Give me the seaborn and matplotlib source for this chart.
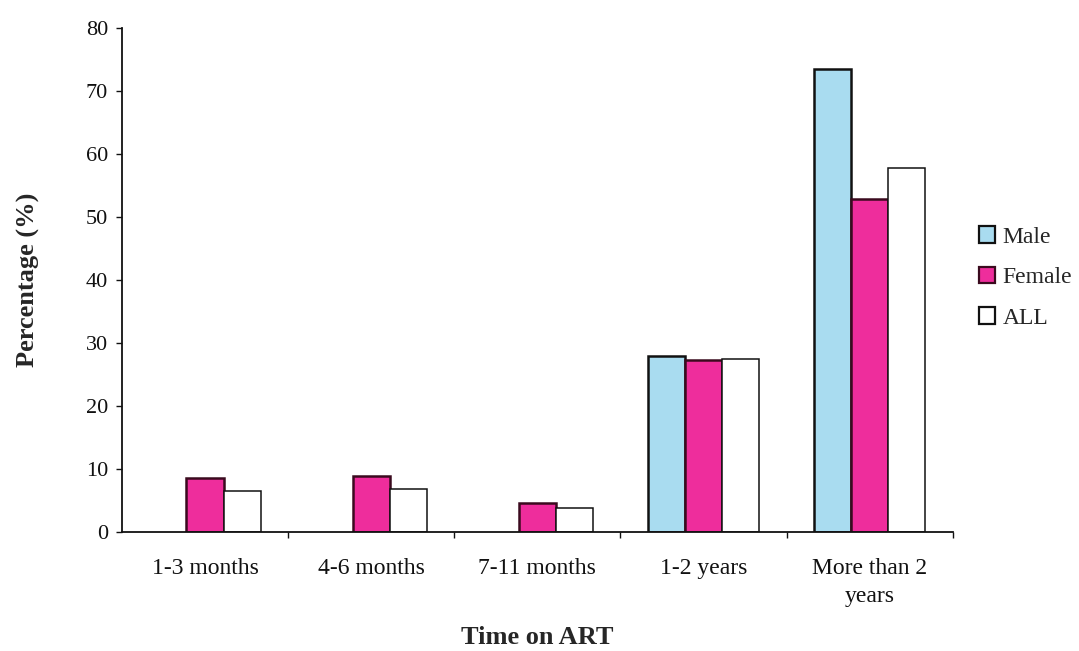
import matplotlib
matplotlib.use("Agg")
import matplotlib.pyplot as plt
import seaborn as sns
import pandas as pd
from matplotlib.patches import Patch

categories = ["1-3 months", "4-6 months", "7-11 months", "1-2 years", "More than 2\nyears"]
male = [0, 0, 0, 28.0, 73.5]
female = [8.6, 8.9, 4.6, 27.3, 52.8]
all_pts = [6.5, 6.8, 3.8, 27.5, 57.8]
groups = ["Male", "Female", "ALL"]

fills = {"Male": "#a9dcf0", "Female": "#ee2d9c", "ALL": "#ffffff"}
edges = {"Male": "#111111", "Female": "#3a0a1e", "ALL": "#111111"}

df = pd.DataFrame({
    "Time on ART": categories * 3,
    "Percentage": male + female + all_pts,
    "Group": ["Male"] * 5 + ["Female"] * 5 + ["ALL"] * 5,
})

sns.set_theme(style="white")
plt.rcParams["font.family"] = ["Liberation Serif", "DejaVu Serif"]

fig = plt.figure(figsize=(10.79, 6.51), dpi=100)
ax = fig.add_axes([0.113, 0.183, 0.770, 0.774])

sns.barplot(data=df, x="Time on ART", y="Percentage", hue="Group",
            hue_order=groups, order=categories, palette=fills,
            saturation=1, width=0.67, gap=0, legend=False, ax=ax)

# bar outlines per series
for container, g in zip(ax.containers, groups):
    for bar in container:
        bar.set_edgecolor(edges[g])
        bar.set_linewidth(1.8 if g != "ALL" else 1.1)
        if bar.get_height() == 0:
            bar.set_visible(False)

ax.set_xlim(-0.5, 4.5)
ax.set_ylim(0, 80)
ax.set_yticks(range(0, 81, 10))
ax.tick_params(axis="y", labelsize=16, length=4, width=1, direction="out",
               left=True, colors="#111111", pad=6)
ax.set_xticks(range(5))
ax.set_xticklabels(categories, fontsize=17, linespacing=1.4)
ax.tick_params(axis="x", length=0, pad=19, colors="#111111")
ax.set_xticks([0.5, 1.5, 2.5, 3.5, 4.5], minor=True)
ax.tick_params(axis="x", which="minor", length=4, width=1, bottom=True,
               direction="out", color="#111111")

for s in ["top", "right"]:
    ax.spines[s].set_visible(False)
for s in ["left", "bottom"]:
    ax.spines[s].set_color("#111111")
    ax.spines[s].set_linewidth(1.3)

ax.set_xlabel("Time on ART", fontsize=19, fontweight="bold", labelpad=14)
ax.set_ylabel("Percentage (%)", fontsize=19, fontweight="bold", labelpad=33)

handles = [Patch(facecolor=fills[g], edgecolor=edges[g], linewidth=1.6, label=g)
           for g in groups]
ax.legend(handles=handles, loc="center left", bbox_to_anchor=(1.02, 0.505),
          frameon=False, fontsize=17, handlelength=0.7, handleheight=0.7,
          handletextpad=0.3, labelspacing=0.8, borderaxespad=0)

fig.savefig("out.png", dpi=100, facecolor="white")
